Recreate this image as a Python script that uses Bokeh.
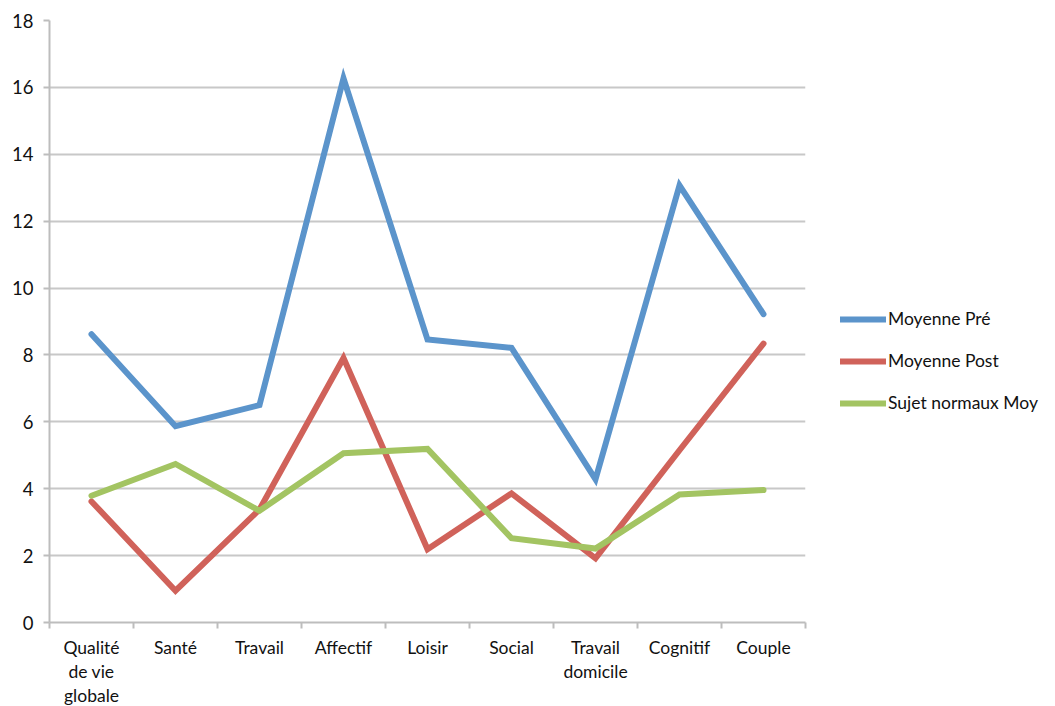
from bokeh.plotting import figure
from bokeh.models import FixedTicker, Legend, LegendItem
from bokeh.embed import file_html
from bokeh.resources import INLINE

categories = ["Qualité\nde vie\nglobale", "Santé", "Travail", "Affectif", "Loisir",
              "Social", "Travail\ndomicile", "Cognitif", "Couple"]
moyenne_pre = [8.62, 5.87, 6.5, 16.27, 8.46, 8.21, 4.28, 13.07, 9.22]
moyenne_post = [3.62, 0.95, 3.38, 7.91, 2.19, 3.86, 1.92, 5.15, 8.34]
sujet_normaux = [3.79, 4.74, 3.34, 5.06, 5.19, 2.52, 2.21, 3.83, 3.96]
series_names = ["Moyenne Pré", "Moyenne Post", "Sujet normaux Moy"]
colors = ["#5B94CB", "#D0625A", "#A3C462"]
y_ticks = list(range(0, 20, 2))

xs = list(range(len(categories)))
font = "Lato"

p = figure(frame_width=756, frame_height=602, x_range=(-0.5, len(categories) - 0.5),
           y_range=(0, 18), output_backend="svg", toolbar_location=None,
           min_border_left=49, min_border_top=20, min_border_bottom=84, min_border_right=0)
p.outline_line_color = None
p.background_fill_color = "white"
p.border_fill_color = "white"

renderers = []
for vals, c in zip([moyenne_pre, moyenne_post, sujet_normaux], colors):
    r = p.line(xs, vals, line_color=c, line_width=6, line_cap="round", line_join="miter")
    renderers.append(r)

# axes
p.xaxis.ticker = FixedTicker(ticks=xs, minor_ticks=[i - 0.5 for i in range(len(categories) + 1)])
p.xaxis.major_label_overrides = {i: c for i, c in enumerate(categories)}
p.xaxis.major_tick_line_color = None
p.xaxis.minor_tick_line_color = "#BDBDBD"
p.xaxis.minor_tick_line_width = 2
p.xaxis.minor_tick_out = 6
p.xaxis.minor_tick_in = 0
p.xaxis.axis_line_color = "#BDBDBD"
p.xaxis.axis_line_width = 2
p.xaxis.major_label_text_font = font
p.xaxis.major_label_text_font_size = "17.5px"
p.xaxis.major_label_text_color = "#111111"
p.xaxis.major_label_standoff = 8
p.xaxis.major_label_text_line_height = 1.15

p.yaxis.ticker = FixedTicker(ticks=y_ticks)
p.yaxis.minor_tick_line_color = None
p.yaxis.major_tick_line_color = "#BDBDBD"
p.yaxis.major_tick_line_width = 2
p.yaxis.major_tick_out = 6
p.yaxis.major_tick_in = 0
p.yaxis.axis_line_color = "#BDBDBD"
p.yaxis.axis_line_width = 2
p.yaxis.major_label_text_font = font
p.yaxis.major_label_text_font_size = "18.5px"
p.yaxis.major_label_text_color = "#111111"
p.yaxis.major_label_standoff = 10

p.xgrid.grid_line_color = None
p.ygrid.ticker = FixedTicker(ticks=y_ticks)
p.ygrid.grid_line_color = "#C8C8C8"
p.ygrid.grid_line_width = 2

legend = Legend(items=[LegendItem(label=n, renderers=[r]) for n, r in zip(series_names, renderers)],
                location=(35, 209))
legend.label_text_font = font
legend.label_text_font_size = "17.5px"
legend.label_text_color = "#111111"
legend.glyph_width = 46
legend.glyph_height = 20
legend.label_standoff = 2
legend.spacing = 21
legend.border_line_color = None
legend.background_fill_alpha = 0
legend.padding = 0
legend.margin = 0
p.add_layout(legend, "right")

open("out.html", "w").write(file_html(p, INLINE))
